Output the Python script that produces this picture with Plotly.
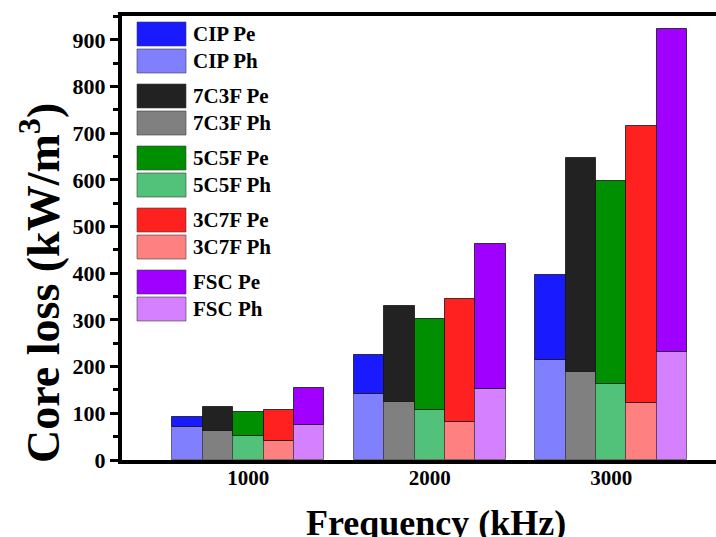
import plotly.graph_objects as go

# ---- data ----
freqs = [1000, 2000, 3000]
materials = ["CIP", "7C3F", "5C5F", "3C7F", "FSC"]

cip_ph = [71, 142, 215]
cip_pe = [21, 82, 181]
c7f3_ph = [62, 124, 189]
c7f3_pe = [52, 205, 457]
c5f5_ph = [52, 108, 162]
c5f5_pe = [50, 193, 435]
c3f7_ph = [40, 81, 122]
c3f7_pe = [67, 264, 593]
fsc_ph = [76, 153, 231]
fsc_pe = [78, 309, 693]

ph_values = [cip_ph, c7f3_ph, c5f5_ph, c3f7_ph, fsc_ph]
pe_values = [cip_pe, c7f3_pe, c5f5_pe, c3f7_pe, fsc_pe]

pe_colors = ["#1a1aff", "#222222", "#008f00", "#ff2020", "#a000ff"]
ph_colors = ["#8080ff", "#808080", "#52c27a", "#ff8080", "#d580ff"]

y_ticks = [0, 100, 200, 300, 400, 500, 600, 700, 800, 900]

FONT = "Liberation Serif"
bar_w = 167.5

fig = go.Figure()
for i, m in enumerate(materials):
    off = (i - 2.5) * bar_w
    fig.add_trace(go.Bar(
        x=freqs, y=ph_values[i], width=bar_w, offset=off,
        marker=dict(color=ph_colors[i], line=dict(color="rgba(40,40,40,0.6)", width=1)),
        name=f"{m} Ph", showlegend=False))
    fig.add_trace(go.Bar(
        x=freqs, y=pe_values[i], base=ph_values[i], width=bar_w, offset=off,
        marker=dict(color=pe_colors[i], line=dict(color="rgba(20,20,20,0.8)", width=1)),
        name=f"{m} Pe", showlegend=False))

# ---- custom legend with large swatches ----
L, R, T, B = 122, 716, 16, 460
def px_x(p):
    return (p - L) / (R - L)
def px_y(p):
    return (B - p) / (B - T)

shapes = []
annotations = []
for i, m in enumerate(materials):
    for j, (lab, col) in enumerate([("Pe", pe_colors[i]), ("Ph", ph_colors[i])]):
        cy = 34 + 62 * i + 27 * j
        shapes.append(dict(type="rect", xref="paper", yref="paper",
                           x0=px_x(137), x1=px_x(186), y0=px_y(cy + 12), y1=px_y(cy - 12),
                           fillcolor=col, line=dict(color="rgba(60,60,60,0.6)", width=1)))
        annotations.append(dict(xref="paper", yref="paper", x=px_x(191), y=px_y(cy),
                                xanchor="left", yanchor="middle", showarrow=False,
                                text=f"<b>{m} {lab}</b>",
                                font=dict(family=FONT, size=21, color="black")))

annotations.append(dict(xref="paper", yref="paper", x=px_x(436), y=px_y(523),
                        xanchor="center", yanchor="middle", showarrow=False,
                        text="<b>Frequency (kHz)</b>",
                        font=dict(family=FONT, size=36, color="black")))
annotations.append(dict(xref="paper", yref="paper", x=px_x(40), y=px_y(283),
                        xanchor="center", yanchor="middle", showarrow=False, textangle=-90,
                        text="<b>Core loss (kW/m<sup>3</sup>)</b>",
                        font=dict(family=FONT, size=46, color="black")))

fig.update_layout(
    width=716, height=537,
    margin=dict(l=L, r=716 - R, t=T, b=537 - B, pad=0),
    paper_bgcolor="white", plot_bgcolor="white",
    barmode="overlay",
    bargap=0,
    shapes=shapes, annotations=annotations,
    font=dict(family=FONT, color="black"),
)
fig.update_xaxes(
    range=[304, 3577], tickvals=freqs, ticktext=[f"<b>{f}</b>" for f in freqs],
    showline=True, linecolor="black", linewidth=4, mirror=True,
    ticks="", showgrid=False, zeroline=False,
    tickfont=dict(family=FONT, size=21, color="black"),
    ticklabelstandoff=-4,
)
fig.update_yaxes(
    range=[0, 951], tickvals=y_ticks, ticktext=[f"<b>{v}</b>" for v in y_ticks],
    showline=True, linecolor="black", linewidth=4, mirror=False,
    ticks="outside", ticklen=8, tickwidth=3, tickcolor="black",
    minor=dict(dtick=50, ticks="outside", ticklen=5, tickwidth=3, tickcolor="black"),
    showgrid=False, zeroline=False,
    tickfont=dict(family=FONT, size=22, color="black"),
)

fig.write_html("out.html")
